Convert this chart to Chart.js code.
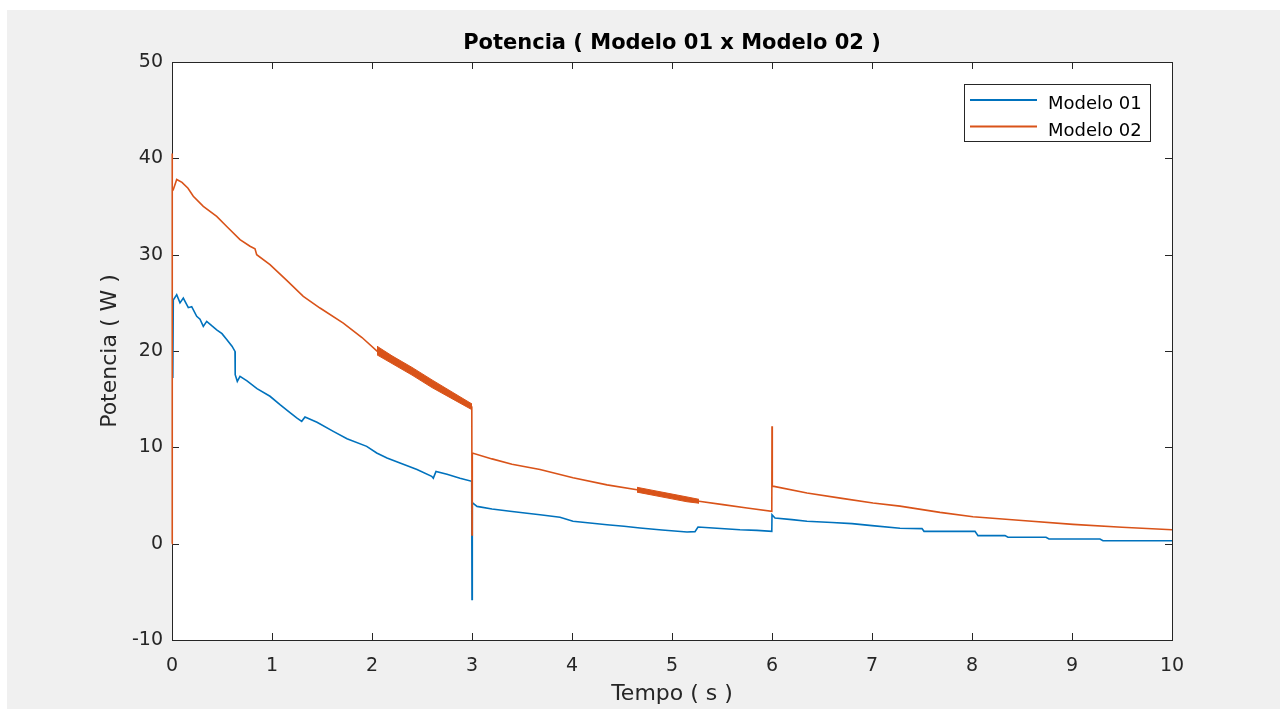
<!DOCTYPE html>
<html><head><meta charset="utf-8">
<script src="https://cdn.jsdelivr.net/npm/chart.js@4.4.0/dist/chart.umd.min.js"></script>
<style>html,body{margin:0;padding:0;background:#fff;overflow:hidden}canvas{display:block}</style>
</head><body>
<canvas id="c" width="1280" height="709"></canvas>
<script>
const chartTitle = 'Potencia ( Modelo 01 x Modelo 02 )';
const xLabel = 'Tempo ( s )';
const yLabel = 'Potencia ( W )';
const seriesNames = ['Modelo 01', 'Modelo 02'];
const xTicks = [0, 1, 2, 3, 4, 5, 6, 7, 8, 9, 10];
const yTicks = [-10, 0, 10, 20, 30, 40, 50];

// Modelo 01 (time s, power W)
const t01 = [0.008, 0.013, 0.047, 0.08, 0.113, 0.163, 0.197, 0.247, 0.28, 0.313, 0.347, 0.40, 0.447, 0.50, 0.547, 0.60, 0.63,
  0.632, 0.653, 0.68, 0.75, 0.85, 0.98, 1.08, 1.18, 1.247, 1.297, 1.33, 1.45, 1.613, 1.75, 1.947, 2.047, 2.15, 2.28, 2.45,
  2.597, 2.613, 2.64, 2.75, 2.88, 2.997, 3.0, 3.003, 3.05, 3.20, 3.38, 3.55, 3.68, 3.88, 4.01, 4.18, 4.35, 4.52, 4.68,
  4.90, 5.15, 5.23, 5.26, 5.41, 5.68, 5.85, 5.998, 6.0, 6.03, 6.20, 6.35, 6.60, 6.80, 7.0, 7.28, 7.50, 7.52, 8.03, 8.06,
  8.33, 8.36, 8.74, 8.77, 9.28, 9.31, 10.0];
const p01 = [17.2, 25.3, 25.85, 25.0, 25.5, 24.5, 24.6, 23.6, 23.3, 22.55, 23.08, 22.6, 22.2, 21.8, 21.2, 20.5, 19.96,
  17.54, 16.85, 17.37, 16.9, 16.1, 15.3, 14.43, 13.6, 13.05, 12.7, 13.15, 12.6, 11.66, 10.9, 10.1, 9.41, 8.9, 8.37, 7.7,
  6.99, 6.8, 7.5, 7.2, 6.8, 6.47, -5.8, 4.25, 3.87, 3.6, 3.36, 3.15, 3.0, 2.74, 2.32, 2.15, 1.97, 1.8, 1.63,
  1.42, 1.21, 1.25, 1.73, 1.63, 1.45, 1.38, 1.28, 3.0, 2.66, 2.5, 2.32, 2.2, 2.08, 1.87, 1.6, 1.56, 1.28, 1.28, 0.83,
  0.83, 0.66, 0.66, 0.48, 0.48, 0.31, 0.31];

// Modelo 02 (time s, power W)
const t02 = [0, 0, 0.005, 0.013, 0.047, 0.10, 0.16, 0.213, 0.313, 0.447, 0.55, 0.68, 0.78, 0.83, 0.847, 0.98, 1.15,
  1.313, 1.48, 1.713, 1.90, 2.05, 2.2, 2.4, 2.6, 2.8, 2.998, 3.0, 3.003, 3.2, 3.4, 3.68, 4.01, 4.35, 4.65, 4.8, 5.0,
  5.15, 5.27, 5.51, 5.75, 5.998, 6.0, 6.003, 6.02, 6.35, 6.7, 7.01, 7.28, 7.68, 8.01, 8.5, 9.01, 9.5, 10.0];
const p02 = [0, 40.5, 36.6, 36.75, 37.8, 37.5, 36.9, 36.06, 35.02, 33.98, 32.9, 31.56, 30.87, 30.6, 30.0, 28.96, 27.3,
  25.68, 24.46, 22.9, 21.4, 20.0, 19.1, 17.9, 16.6, 15.4, 14.2, 0.9, 9.41, 8.8, 8.25, 7.7, 6.85, 6.1, 5.6, 5.3, 4.9,
  4.6, 4.4, 4.05, 3.7, 3.36, 12.2, 5.95, 5.95, 5.26, 4.7, 4.22, 3.9, 3.25, 2.8, 2.4, 2.0, 1.7, 1.45];

// Modelo 02 oscillation envelopes (upper / lower)
const tNoiseA = [2.05, 2.2, 2.4, 2.6, 2.8, 3.0];
const noiseAHigh = [20.5, 19.5, 18.3, 17.0, 15.75, 14.5];
const noiseALow = [19.6, 18.7, 17.5, 16.2, 15.05, 13.9];
const tNoiseB = [4.65, 4.8, 5.0, 5.15, 5.27];
const noiseBHigh = [5.85, 5.55, 5.15, 4.85, 4.6];
const noiseBLow = [5.35, 5.05, 4.65, 4.35, 4.2];

const COL1 = '#0072BD';
const COL2 = '#D95319';
const AXC = '#262626';
const pts = (ts, vs) => ts.map((t, i) => ({x: t, y: vs[i]}));

Chart.defaults.font.family = '"DejaVu Sans", sans-serif';

const framePlugin = {
  id: 'framePlugin',
  beforeDraw(c) {
    const ctx = c.ctx, a = c.chartArea;
    ctx.save();
    ctx.fillStyle = '#ffffff';
    ctx.fillRect(0, 0, c.width, c.height);
    ctx.fillStyle = '#f0f0f0';
    ctx.fillRect(7, 10, c.width - 7, c.height - 10);
    ctx.fillStyle = '#ffffff';
    ctx.fillRect(a.left, a.top, a.right - a.left, a.bottom - a.top);
    ctx.restore();
  },
  beforeDatasetsDraw(c) {
    const ctx = c.ctx, a = c.chartArea;
    const xs = c.scales.x, ys = c.scales.y;
    ctx.save();
    ctx.strokeStyle = AXC;
    ctx.lineWidth = 1;
    ctx.strokeRect(Math.round(a.left) + 0.5, Math.round(a.top) + 0.5, Math.round(a.right - a.left), Math.round(a.bottom - a.top));
    const tl = 7;
    ctx.beginPath();
    xs.ticks.forEach(t => {
      const px = Math.round(xs.getPixelForValue(t.value)) + 0.5;
      ctx.moveTo(px, a.bottom); ctx.lineTo(px, a.bottom - tl);
      ctx.moveTo(px, a.top); ctx.lineTo(px, a.top + tl);
    });
    ys.ticks.forEach(t => {
      const py = Math.round(ys.getPixelForValue(t.value)) + 0.5;
      ctx.moveTo(a.left, py); ctx.lineTo(a.left + tl, py);
      ctx.moveTo(a.right, py); ctx.lineTo(a.right - tl, py);
    });
    ctx.stroke();
    ctx.restore();
  },
  afterDraw(c) {
    const ctx = c.ctx, a = c.chartArea;
    ctx.save();
    // title
    ctx.fillStyle = '#000';
    ctx.font = 'bold 21px "DejaVu Sans"';
    ctx.textAlign = 'center';
    ctx.textBaseline = 'alphabetic';
    ctx.fillText(chartTitle, (a.left + a.right) / 2, 48.5);
    // legend
    const lx = 964.5, ly = 84.5, lw = 186, lh = 57;
    ctx.fillStyle = '#fff';
    ctx.fillRect(lx, ly, lw, lh);
    ctx.strokeStyle = AXC;
    ctx.lineWidth = 1;
    ctx.strokeRect(lx, ly, lw, lh);
    const cols = [COL1, COL2];
    seriesNames.forEach((n, i) => {
      const y = 100 + i * 26.5;
      ctx.strokeStyle = cols[i];
      ctx.lineWidth = 1.8;
      ctx.beginPath(); ctx.moveTo(970, y); ctx.lineTo(1037, y); ctx.stroke();
      ctx.fillStyle = '#000';
      ctx.font = '18px "DejaVu Sans"';
      ctx.textAlign = 'left';
      ctx.fillText(n, 1048, y + 9);
    });
    ctx.restore();
  }
};

new Chart(document.getElementById('c'), {
  type: 'line',
  data: {
    datasets: [
      {label: seriesNames[0], data: pts(t01, p01), borderColor: COL1, backgroundColor: COL1, borderWidth: 1.6, pointRadius: 0, tension: 0, order: 3, clip: 3},
      {label: seriesNames[1], data: pts(t02, p02), borderColor: COL2, backgroundColor: COL2, borderWidth: 1.6, pointRadius: 0, tension: 0, order: 2, clip: 3},
      {label: 'nA_hi', data: pts(tNoiseA, noiseAHigh), borderColor: COL2, backgroundColor: COL2, borderWidth: 1, pointRadius: 0, fill: '+1', order: 1},
      {label: 'nA_lo', data: pts(tNoiseA, noiseALow), borderColor: COL2, backgroundColor: COL2, borderWidth: 1, pointRadius: 0, fill: false, order: 1},
      {label: 'nB_hi', data: pts(tNoiseB, noiseBHigh), borderColor: COL2, backgroundColor: COL2, borderWidth: 1, pointRadius: 0, fill: '+1', order: 1},
      {label: 'nB_lo', data: pts(tNoiseB, noiseBLow), borderColor: COL2, backgroundColor: COL2, borderWidth: 1, pointRadius: 0, fill: false, order: 1}
    ]
  },
  options: {
    responsive: false,
    devicePixelRatio: 1,
    animation: false,
    events: [],
    layout: {padding: {left: 95, right: 108, top: 62, bottom: 0}},
    plugins: {legend: {display: false}, title: {display: false}, tooltip: {enabled: false}},
    scales: {
      x: {
        type: 'linear', min: 0, max: 10,
        afterBuildTicks: s => { s.ticks = xTicks.map(v => ({value: v})); },
        afterFit: s => { s.height = 69; },
        ticks: {color: AXC, font: {size: 19}, padding: 7, maxRotation: 0, autoSkip: false, callback: v => String(v)},
        grid: {display: false}, border: {display: false},
        title: {display: true, text: xLabel, color: AXC, font: {size: 22}, padding: {top: 0, bottom: 2}}
      },
      y: {
        type: 'linear', min: -10, max: 50,
        afterBuildTicks: s => { s.ticks = yTicks.map(v => ({value: v})); },
        afterFit: s => { s.width = 77; },
        ticks: {color: AXC, font: {size: 19}, padding: 1, autoSkip: false, callback: v => String(v)},
        grid: {display: false}, border: {display: false},
        title: {display: true, text: yLabel, color: AXC, font: {size: 22}, padding: {top: 2, bottom: 0}}
      }
    }
  },
  plugins: [framePlugin]
});
</script>
</body></html>
